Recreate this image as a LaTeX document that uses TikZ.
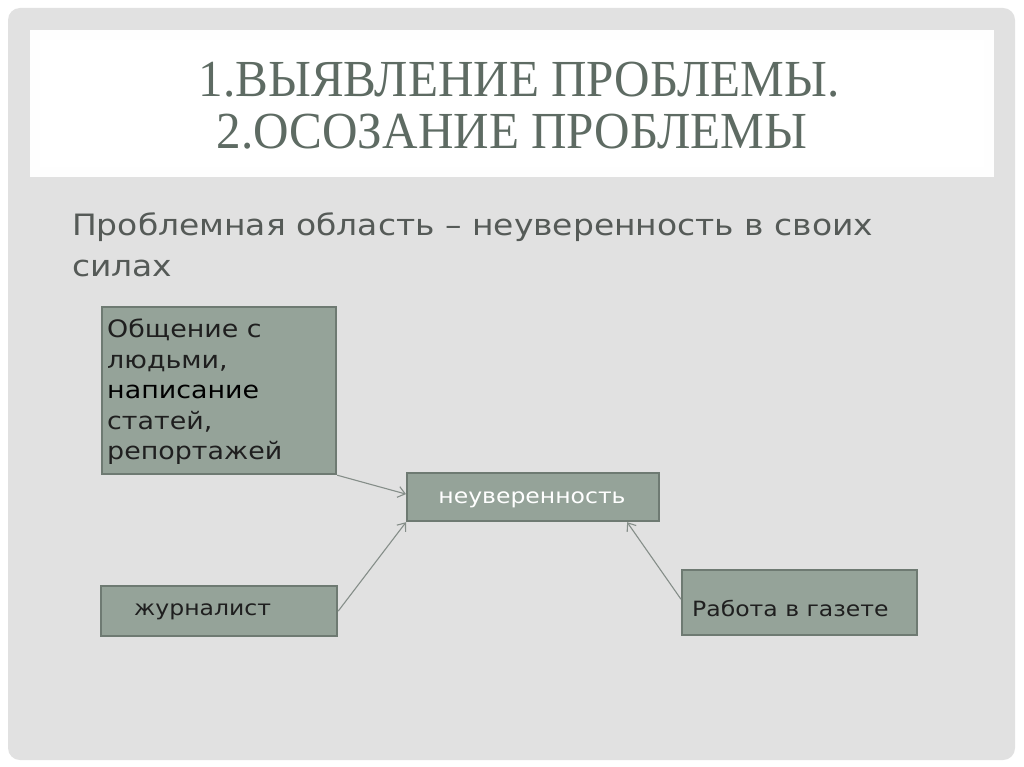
\documentclass[tikz,border=0pt]{standalone}
\usepackage{fontspec}
\setmainfont{Liberation Serif}
\newfontfamily\bodyfont[FakeStretch=1.12]{DejaVu Sans}
\usetikzlibrary{arrows.meta,calc}
\definecolor{slidebg}{HTML}{E1E1E1}
\definecolor{titlecol}{HTML}{5E6B63}
\definecolor{subcol}{HTML}{555A57}
\definecolor{boxfill}{HTML}{95A399}
\definecolor{boxline}{HTML}{6E7A72}
\definecolor{arrcol}{HTML}{858E89}
\tikzset{
  box/.style={draw=boxline, line width=2.2pt, fill=boxfill, inner sep=0pt, anchor=north west},
  arr/.style={draw=arrcol, line width=1.1pt, -{Straight Barb[length=7pt,width=11pt]}},
  boxtext/.style={text=black!88, font=\bodyfont\fontsize{21}{24}\selectfont, inner sep=0pt},
}
\begin{document}
\begin{tikzpicture}[x=1pt,y=-1pt]
\useasboundingbox (0,0) rectangle (1024,767);
\fill[white] (0,0) rectangle (1024,767);
\fill[slidebg, rounded corners=12pt] (8,8) rectangle (1015,760);
\fill[white!96!slidebg] (30,30) rectangle (994,177);
\fill[white] (40,40) rectangle (984,167);
% title
\node[text=titlecol, font=\fontsize{52}{52}\selectfont, align=center] (t1) at (519,80) {\scalebox{0.945}[1]{1.ВЫЯВЛЕНИЕ ПРОБЛЕМЫ.}};
\node[text=titlecol, font=\fontsize{52}{52}\selectfont, align=center] (t2) at (512,132) {\scalebox{0.945}[1]{2.ОСОЗАНИЕ ПРОБЛЕМЫ}};
% subtitle
\node[text=subcol, font=\bodyfont\fontsize{29.4}{40}\selectfont, anchor=base west, inner sep=0pt] (s1) at (72,236) {Проблемная область – неуверенность в своих};
\node[text=subcol, font=\bodyfont\fontsize{29.4}{40}\selectfont, anchor=base west, inner sep=0pt] (s2) at (72,276) {силах};
% boxes
\node[box, minimum width=234pt, minimum height=167pt] (b1) at (101,306) {};
\node[boxtext, anchor=north west, align=left, font=\bodyfont\fontsize{24}{30.5}\selectfont] (b1t) at (107,319) {Общение с\\людьми,\\{\color{black}написание}\\статей,\\репортажей};
\node[box, minimum width=252pt, minimum height=48pt] (b2) at (406,472) {};
\node[boxtext, text=white] (b2t) at (532,500) {неуверенность};
\node[box, minimum width=236pt, minimum height=50pt] (b3) at (100,585) {};
\node[boxtext, anchor=west] (b3t) at (134,612) {журналист};
\node[box, minimum width=235pt, minimum height=65pt] (b4) at (681,569) {};
\node[boxtext, anchor=west] (b4t) at (692,608) {Работа в газете};
% connectors
\draw[arr] (b1.south east) -- ($(b2.west)+(0,-3)$);
\draw[arr] (b3.east) -- (b2.south west);
\draw[arr] ($(b4.north west)!0.45!(b4.south west)$) -- ($(b2.south west)!0.87!(b2.south east)$);
\end{tikzpicture}
\end{document}
